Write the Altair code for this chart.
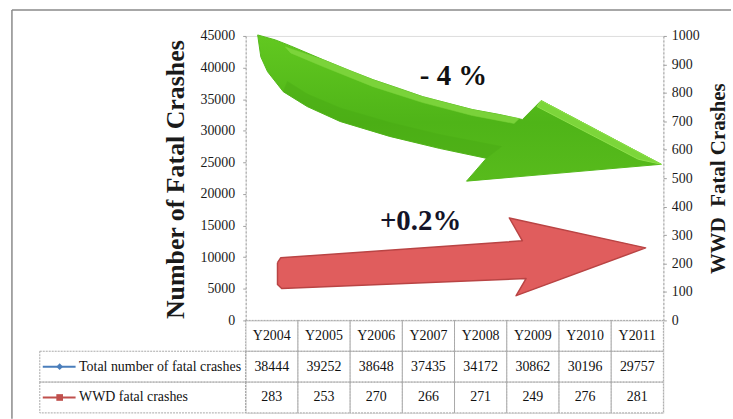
import altair as alt
import pandas as pd

SERIF = "Liberation Serif"

# Table values
years = ["Y2004", "Y2005", "Y2006", "Y2007", "Y2008", "Y2009", "Y2010", "Y2011"]
total_crashes = [38444, 39252, 38648, 37435, 34172, 30862, 30196, 29757]
wwd_crashes = [283, 253, 270, 266, 271, 249, 276, 281]
row_labels = ["Total number of fatal crashes", "WWD fatal crashes"]
series_colors = ["#4a7ebb", "#c0504d"]
series_shapes = ["diamond", "square"]

left_ticks = [0, 5000, 10000, 15000, 20000, 25000, 30000, 35000, 40000, 45000]
right_ticks = [0, 100, 200, 300, 400, 500, 600, 700, 800, 900, 1000]

# Trend arrows, outlined in axis units (x: year slot, 0 = Y2004)
# total fatal crashes trend (left axis units)
green_x = [-0.27, 0.07, 0.36, 0.99, 1.50, 1.94, 2.45, 2.89, 3.40, 3.84, 4.36, 4.80,
           5.16, 7.46, 3.73, 4.11, 3.21, 2.26, 1.31, 0.68, 0.22, -0.08, -0.21, -0.27]
green_y = [45160, 44370, 43430, 41220, 39490, 38080, 36660, 35400, 34300, 33360, 32570, 31780,
           34770, 24700, 22030, 25650, 27220, 29110, 31470, 33830, 36190, 39340, 41700, 45160]
# darker lower band of the shaft
shade_x = [0.22, 0.68, 1.31, 2.26, 3.21, 4.11, 4.40, 3.21, 2.26, 1.31, 0.68, 0.30, 0.22]
shade_y = [36190, 33830, 31470, 29110, 27220, 25650, 27500, 29400, 31300, 33600, 35800, 37800, 36190]
# light rim along the upper edge of the shaft
rim_x = [0.26, 0.99, 1.94, 2.89, 3.84, 4.74, 4.64, 3.84, 2.89, 1.94, 0.99, 0.36, 0.26]
rim_y = [43270, 41220, 38080, 35400, 33360, 31940, 31150, 32410, 34460, 36980, 40120, 42320, 43270]
# lit facet of the arrow head
facet_x = [5.16, 7.46, 7.02, 5.08, 5.16]
facet_y = [34770, 24700, 25490, 33830, 34770]
# wrong-way-driving crashes trend (right axis units)
red_x = [0.11, 0.17, 4.80, 4.55, 7.16, 4.68, 4.87, 0.19, 0.11, 0.11]
red_y = [203, 220, 280, 360, 255, 87, 147, 112, 126, 203]

trend_labels = ["- 4 %", "+0.2%"]
trend_label_x = [3.48, 2.85]
trend_label_total = [37290]
trend_label_wwd = [318]

X_DOMAIN = [-0.5, 7.5]
W, H, TABLE_H = 420, 286, 93


def polygon(xs, ys):
    return pd.DataFrame({"x": xs, "y": ys, "order": list(range(len(xs)))})


x_plot = alt.X("x:Q", scale=alt.Scale(domain=X_DOMAIN, nice=False, zero=False), axis=None)

left_axis = alt.Axis(
    values=left_ticks, tickCount=len(left_ticks), format="d", labelOverlap=False,
    title="Number of Fatal Crashes", titleFont=SERIF, titleFontSize=26,
    titleFontWeight="bold", titleColor="#1a1a1a", titleAngle=-90, titleX=-70, titleY=H / 2 + 1,
    titleAlign="center", titleBaseline="middle",
    labelFont=SERIF, labelFontSize=14, labelColor="#1a1a1a", labelPadding=8,
    tickSize=3, tickColor="#a0a0a0", domainColor="#a0a0a0", domainDash=[2, 2], grid=False,
)
right_axis = alt.Axis(
    values=right_ticks, tickCount=len(right_ticks), format="d", labelOverlap=False,
    orient="right", title="WWD\u00a0 Fatal Crashes", titleFont=SERIF,
    titleFontSize=21, titleFontWeight="bold", titleColor="#1a1a1a", titleAngle=-90,
    titleX=55, titleY=H / 2, titleAlign="center", titleBaseline="middle",
    labelFont=SERIF, labelFontSize=14, labelColor="#1a1a1a", labelPadding=5,
    tickSize=3, tickColor="#a0a0a0", domainColor="#a0a0a0", domainDash=[2, 2], grid=False,
)
y_left = lambda: alt.Y("y:Q", scale=alt.Scale(domain=[0, 45000], nice=False), axis=left_axis)
y_right = lambda: alt.Y("y:Q", scale=alt.Scale(domain=[0, 1000], nice=False), axis=right_axis)

green_fill = alt.Gradient(
    gradient="linear", x1=0, y1=0, x2=0, y2=1,
    stops=[alt.GradientStop(color="#62c820", offset=0),
           alt.GradientStop(color="#4fb418", offset=0.6),
           alt.GradientStop(color="#58bb1c", offset=1)],
)

green_arrow = alt.Chart(polygon(green_x, green_y)).mark_line(
    fill=green_fill, stroke="#55b81b", strokeWidth=1, strokeJoin="round"
).encode(x=x_plot, y=y_left(), order="order:Q")
green_shade = alt.Chart(polygon(shade_x, shade_y)).mark_line(
    fill="#45a512", stroke="#45a512", strokeWidth=0.5, opacity=0.35
).encode(x=x_plot, y=y_left(), order="order:Q")
green_rim = alt.Chart(polygon(rim_x, rim_y)).mark_line(
    fill="#7fd63e", stroke="#7fd63e", strokeWidth=0.5, opacity=0.9
).encode(x=x_plot, y=y_left(), order="order:Q")
green_facet = alt.Chart(polygon(facet_x, facet_y)).mark_line(
    fill="#7cd63a", stroke="#8ee04c", strokeWidth=1
).encode(x=x_plot, y=y_left(), order="order:Q")

total_label = alt.Chart(pd.DataFrame({
    "x": [trend_label_x[0]], "y": trend_label_total, "t": [trend_labels[0]]
})).mark_text(font=SERIF, fontSize=29, fontWeight="bold", color="#111111",
              baseline="alphabetic").encode(x=x_plot, y=y_left(), text="t:N")

frame_df = pd.DataFrame({"k": [0]})
frame_left = alt.Chart(frame_df).mark_rule(color="#8a8a8a", strokeWidth=1.5).encode(
    x=alt.value(-235), y=alt.value(-26), y2=alt.value(385))
frame_top = alt.Chart(frame_df).mark_rule(color="#8a8a8a", strokeWidth=1.5).encode(
    x=alt.value(-235), x2=alt.value(488), y=alt.value(-26))

left_group = alt.layer(green_arrow, green_shade, green_rim, green_facet, total_label,
                       frame_left, frame_top)

red_arrow = alt.Chart(polygon(red_x, red_y)).mark_line(
    fill="#e05d5d", stroke="#b94444", strokeWidth=1.5, strokeJoin="round"
).encode(x=x_plot, y=y_right(), order="order:Q")
wwd_label = alt.Chart(pd.DataFrame({
    "x": [trend_label_x[1]], "y": trend_label_wwd, "t": [trend_labels[1]]
})).mark_text(font=SERIF, fontSize=29, fontWeight="bold", color="#141428",
              baseline="alphabetic").encode(x=x_plot, y=y_right(), text="t:N")

right_group = alt.layer(red_arrow, wwd_label)

plot = alt.layer(left_group, right_group).resolve_scale(y="independent").properties(
    width=W, height=H)

# Data table under the plot
row_order = ["Year"] + row_labels
cells = []
for i, yr in enumerate(years):
    cells.append({"idx": i, "row": "Year", "text": yr})
    cells.append({"idx": i, "row": row_labels[0], "text": str(total_crashes[i])})
    cells.append({"idx": i, "row": row_labels[1], "text": str(wwd_crashes[i])})
table_df = pd.DataFrame(cells)
label_df = pd.DataFrame({"row": row_labels})

x_tab = alt.X("idx:Q", scale=alt.Scale(domain=X_DOMAIN, nice=False, zero=False), axis=None)
y_tab = alt.Y(
    "row:N", sort=row_order,
    scale=alt.Scale(domain=row_order, paddingInner=0, paddingOuter=0),
    axis=alt.Axis(title=None, domain=False, ticks=False, labelAlign="left", labelPadding=168,
                  labelLimit=300, labelFont=SERIF, labelFontSize=14, labelColor="#111111",
                  labelExpr="datum.value == 'Year' ? '' : datum.value"),
)
y_tab_plain = alt.Y("row:N", sort=row_order,
                    scale=alt.Scale(domain=row_order, paddingInner=0, paddingOuter=0))

grid = alt.Chart(table_df).transform_calculate(
    x0="datum.idx - 0.5", x1="datum.idx + 0.5"
).mark_rect(fill="transparent", stroke="#a8a8a8", strokeWidth=1, strokeDash=[2, 1]).encode(
    x=alt.X("x0:Q", scale=alt.Scale(domain=X_DOMAIN, nice=False, zero=False), axis=None),
    x2="x1:Q", y=y_tab)
label_cells = alt.Chart(label_df).mark_rect(
    fill="transparent", stroke="#a8a8a8", strokeWidth=1, strokeDash=[2, 1]
).encode(x=alt.value(-207), x2=alt.value(0), y=y_tab_plain)
table_text = alt.Chart(table_df).mark_text(font=SERIF, fontSize=14, color="#111111").encode(
    x=x_tab, y=y_tab_plain, text="text:N")

key_color = alt.Color("row:N", scale=alt.Scale(domain=row_labels, range=series_colors), legend=None)
key_lines = alt.Chart(label_df).mark_rule(strokeWidth=2).encode(
    x=alt.value(-204), x2=alt.value(-171), y=y_tab_plain, color=key_color)
key_marks = alt.Chart(label_df).mark_point(filled=True, size=45, opacity=1).encode(
    x=alt.value(-187), y=y_tab_plain, color=key_color,
    shape=alt.Shape("row:N", scale=alt.Scale(domain=row_labels, range=series_shapes), legend=None))

table = alt.layer(grid, label_cells, table_text, key_lines, key_marks).properties(
    width=W, height=TABLE_H)

chart = alt.vconcat(plot, table, spacing=0, bounds="flush").properties(
    padding={"left": 10, "top": 7, "right": 0, "bottom": 0},
).configure_view(strokeWidth=0).configure(background="white")

chart.save("out.html", embed_options={"renderer": "svg", "actions": False})
